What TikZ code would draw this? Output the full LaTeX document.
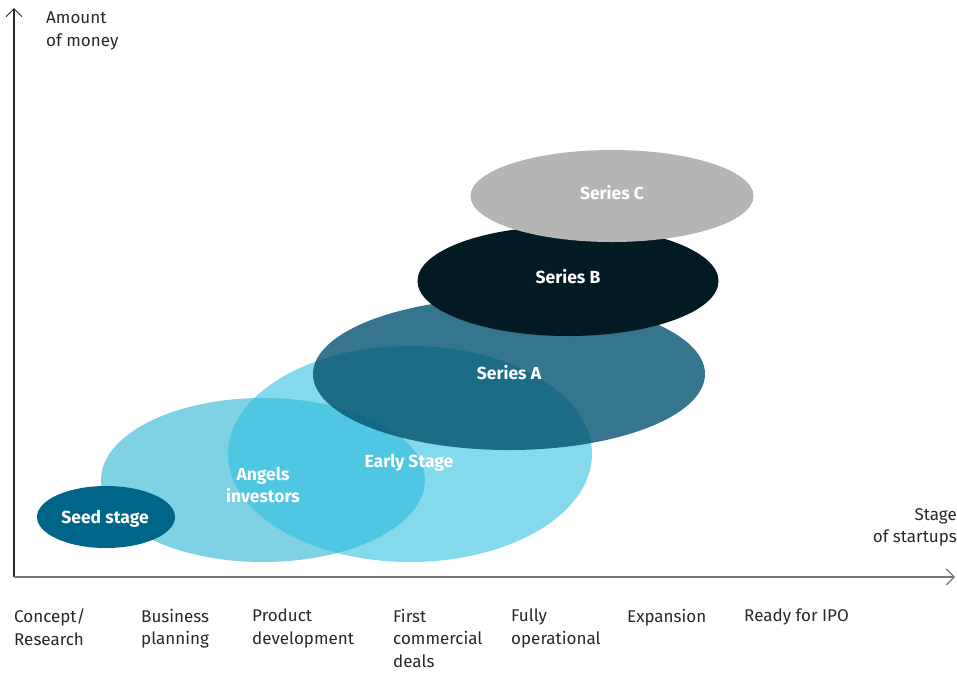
\documentclass[tikz,border=0pt]{standalone}
\usepackage{fontspec}
\setmainfont{Fira Sans}
\usetikzlibrary{shapes.geometric,arrows.meta}
\definecolor{seedc}{RGB}{0,102,137}
\definecolor{angelc}{RGB}{42,178,210}
\definecolor{earlyc}{RGB}{50,192,225}
\definecolor{seriesac}{RGB}{3,82,112}
\definecolor{seriesbc}{RGB}{2,26,35}
\definecolor{seriescc}{RGB}{181,181,180}
\definecolor{txtc}{RGB}{40,40,40}
\definecolor{xaxisc}{RGB}{120,120,120}
\begin{document}
\begin{tikzpicture}[x=1pt,y=-1pt,
  blob/.style={ellipse,inner sep=0pt,draw=none},
  lbl/.style={text=white,font=\fontsize{17.5}{22}\selectfont\bfseries,align=center,inner sep=0pt},
  axlbl/.style={text=txtc,font=\fontsize{17}{22.5}\selectfont,inner sep=0pt},
  stagelbl/.style={axlbl,align=left,anchor=north west}]
\useasboundingbox (0,0) rectangle (957,672);
% ellipses
\node[blob,fill=angelc,fill opacity=0.6,minimum width=324pt,minimum height=164pt] (angels) at (263,480) {};
\node[blob,fill=earlyc,fill opacity=0.6,minimum width=364pt,minimum height=216pt] (early) at (410,454) {};
\node[blob,fill=seriesac,fill opacity=0.8,minimum width=392pt,minimum height=152pt] (seriesA) at (509,374) {};
\node[blob,fill=seriesbc,minimum width=301pt,minimum height=110pt] (seriesB) at (568,281) {};
\node[blob,fill=seriescc,minimum width=283pt,minimum height=92pt] (seriesC) at (612,196) {};
\node[blob,fill=seedc,minimum width=138pt,minimum height=62pt] (seed) at (106,517) {};
% labels
\node[lbl] (seedlbl) at (105,519) {Seed stage};
\node[lbl] (angelslbl) at (263,485) {Angels\\investors};
\node[lbl] (earlylbl) at (409,463) {Early Stage};
\node[lbl] (salbl) at (509,373) {Series A};
\node[lbl] (sblbl) at (568,277) {Series B};
\node[lbl] (sclbl) at (612,193) {Series C};
% axes
\coordinate (O) at (14,577);
\coordinate (ytop) at (14,8);
\coordinate (xend) at (955,577);
\draw[txtc,line width=1.2pt,-{Straight Barb[length=8pt,width=16pt,line width=1pt]}] (O) -- (ytop);
\draw[xaxisc,line width=1.6pt,-{Straight Barb[length=8pt,width=16pt,line width=1.2pt]}] (O) -- (xend);
\node[axlbl,align=left,anchor=north west] (ylbl) at (46,12) {Amount\\of money};
\node[axlbl,align=right,anchor=north east] (xlbl) at (957,508) {Stage\\of startups};
% stages
\node[stagelbl] (s1) at (14,609) {Concept/\\Research};
\node[stagelbl] (s2) at (141,609) {Business\\planning};
\node[stagelbl] (s3) at (252,609) {Product\\development};
\node[stagelbl] (s4) at (393,609) {First\\commercial\\deals};
\node[stagelbl] (s5) at (511,609) {Fully\\operational};
\node[stagelbl] (s6) at (627,609) {Expansion};
\node[stagelbl] (s7) at (744,609) {Ready for IPO};
\end{tikzpicture}
\end{document}
